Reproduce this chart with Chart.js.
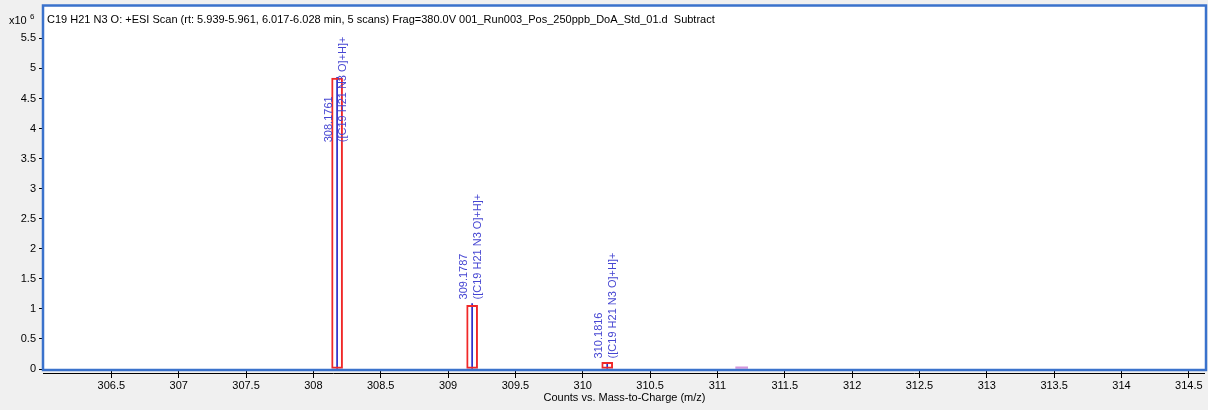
<!DOCTYPE html>
<html>
<head>
<meta charset="utf-8">
<script src="https://cdn.jsdelivr.net/npm/chart.js@4/dist/chart.umd.min.js"></script>
<style>
  html, body { margin: 0; padding: 0; background: #f0f0f0; }
  #wrap { position: relative; width: 1208px; height: 410px; }
</style>
</head>
<body>
<div id="wrap"><canvas id="spectrum" width="1208" height="410"></canvas></div>
<script>
// measured peaks (blue sticks), counts in x10^6
const peakMz = [308.1761, 309.1787, 310.1816];
const peakCounts = [4.85, 1.09, 0.11];
// predicted isotope pattern (red boxes)
const predictedMz = [308.1761, 309.1787, 310.1816];
const predictedCounts = [4.84, 1.06, 0.11];
// small unlabelled peak
const minorMz = [311.18];
const minorCounts = [0.035];

const peakLabels = ['308.1761', '309.1787', '310.1816'];
const formulaLabel = '([C19 H21 N3 O]+H]+';

const xTicks = [306.5, 307, 307.5, 308, 308.5, 309, 309.5, 310, 310.5,
                311, 311.5, 312, 312.5, 313, 313.5, 314, 314.5];
const yTicks = [0, 0.5, 1, 1.5, 2, 2.5, 3, 3.5, 4, 4.5, 5, 5.5];

const headerText = 'C19 H21 N3 O: +ESI Scan (rt: 5.939-5.961, 6.017-6.028 min, 5 scans) Frag=380.0V 001_Run003_Pos_250ppb_DoA_Std_01.d  Subtract';

const FONT = '"Liberation Sans", Arial, sans-serif';
const toXY = (xs, ys) => xs.map((x, i) => ({ x: x, y: ys[i] }));

const annotate = {
    id: 'annotate',
    beforeDraw(chart) {
        const { ctx, chartArea: a } = chart;
        ctx.save();
        ctx.fillStyle = '#ffffff';
        ctx.fillRect(a.left, a.top, a.right - a.left, a.bottom - a.top);
        ctx.restore();
    },
    afterDatasetsDraw(chart) {
        const { ctx, chartArea: a } = chart;
        const xs = chart.scales.x, ys = chart.scales.y;
        ctx.save();
        ctx.font = '11px ' + FONT;
        ctx.fillStyle = '#4646d2';
        ctx.textAlign = 'left';
        ctx.textBaseline = 'middle';
        peakMz.forEach((mz, i) => {
            const x = xs.getPixelForValue(mz);
            const top = ys.getPixelForValue(Math.max(peakCounts[i], predictedCounts[i]));
            const w = Math.max(ctx.measureText(peakLabels[i]).width, ctx.measureText(formulaLabel).width);
            // keep labels clear of the header line
            const bottom = Math.max(top - 4, a.top + 30 + w);
            [[peakLabels[i], -8], [formulaLabel, 6]].forEach(([txt, dx]) => {
                ctx.save();
                ctx.translate(x + dx, bottom);
                ctx.rotate(-Math.PI / 2);
                ctx.fillText(txt, 0, 0);
                ctx.restore();
            });
        });
        ctx.restore();
    },
    afterDraw(chart) {
        const { ctx, chartArea: a } = chart;
        ctx.save();
        // x axis line, a little below the frame
        ctx.strokeStyle = '#000000';
        ctx.lineWidth = 1;
        ctx.beginPath();
        ctx.moveTo(a.left - 1, a.bottom + 4.5);
        ctx.lineTo(a.right, a.bottom + 4.5);
        ctx.stroke();
        // plot frame
        ctx.strokeStyle = '#3a72cc';
        ctx.lineWidth = 2.5;
        ctx.strokeRect(a.left - 1, a.top - 1, a.right - a.left + 2, a.bottom - a.top + 2);
        // header + exponent
        ctx.fillStyle = '#000000';
        ctx.textBaseline = 'middle';
        ctx.textAlign = 'left';
        ctx.font = '11px ' + FONT;
        ctx.fillText(headerText, a.left + 3, 19.5);
        ctx.fillText('x10', 9, 20.5);
        ctx.font = '8px ' + FONT;
        ctx.fillText('6', 30, 16.5);
        ctx.restore();
    }
};

new Chart(document.getElementById('spectrum'), {
    type: 'bar',
    data: {
        datasets: [
            {
                data: toXY(predictedMz, predictedCounts),
                grouped: false,
                barThickness: 11,
                backgroundColor: 'rgba(0,0,0,0)',
                borderColor: '#f02828',
                borderWidth: 1.3,
                borderSkipped: false
            },
            {
                data: toXY(peakMz, peakCounts),
                grouped: false,
                barThickness: 1,
                backgroundColor: '#2828c8',
                borderWidth: 0
            },
            {
                data: toXY(minorMz, minorCounts),
                grouped: false,
                barThickness: 12,
                backgroundColor: '#d496dc',
                borderWidth: 0
            }
        ]
    },
    options: {
        responsive: false,
        animation: false,
        layout: { padding: { top: 6.5, right: 3, left: 0, bottom: 0 } },
        plugins: {
            legend: { display: false },
            tooltip: { enabled: false }
        },
        scales: {
            x: {
                type: 'linear',
                min: 306.0,
                max: 314.62,
                offset: false,
                afterBuildTicks: s => { s.ticks = xTicks.map(v => ({ value: v })); },
                afterFit: s => { s.height = 41; s.paddingLeft = 0; s.paddingRight = 0; },
                grid: { offset: false, drawOnChartArea: false, tickLength: 9, color: '#000000' },
                border: { display: false },
                ticks: {
                    color: '#000000',
                    font: { family: FONT, size: 11 },
                    padding: 1,
                    maxRotation: 0,
                    autoSkip: false,
                    callback: v => String(v)
                },
                title: {
                    display: true,
                    text: 'Counts vs. Mass-to-Charge (m/z)',
                    color: '#000000',
                    font: { family: FONT, size: 11 },
                    padding: { top: 0, bottom: 5 }
                }
            },
            y: {
                min: 0,
                max: 6.03,
                afterBuildTicks: s => { s.ticks = yTicks.map(v => ({ value: v })); },
                afterFit: s => { s.width = 44; s.paddingTop = 0; s.paddingBottom = 0; },
                grid: { drawOnChartArea: false, tickLength: 5, color: '#000000' },
                border: { display: false },
                ticks: {
                    color: '#000000',
                    font: { family: FONT, size: 11 },
                    padding: 3,
                    callback: v => String(v)
                }
            }
        }
    },
    plugins: [annotate]
});
</script>
</body>
</html>
